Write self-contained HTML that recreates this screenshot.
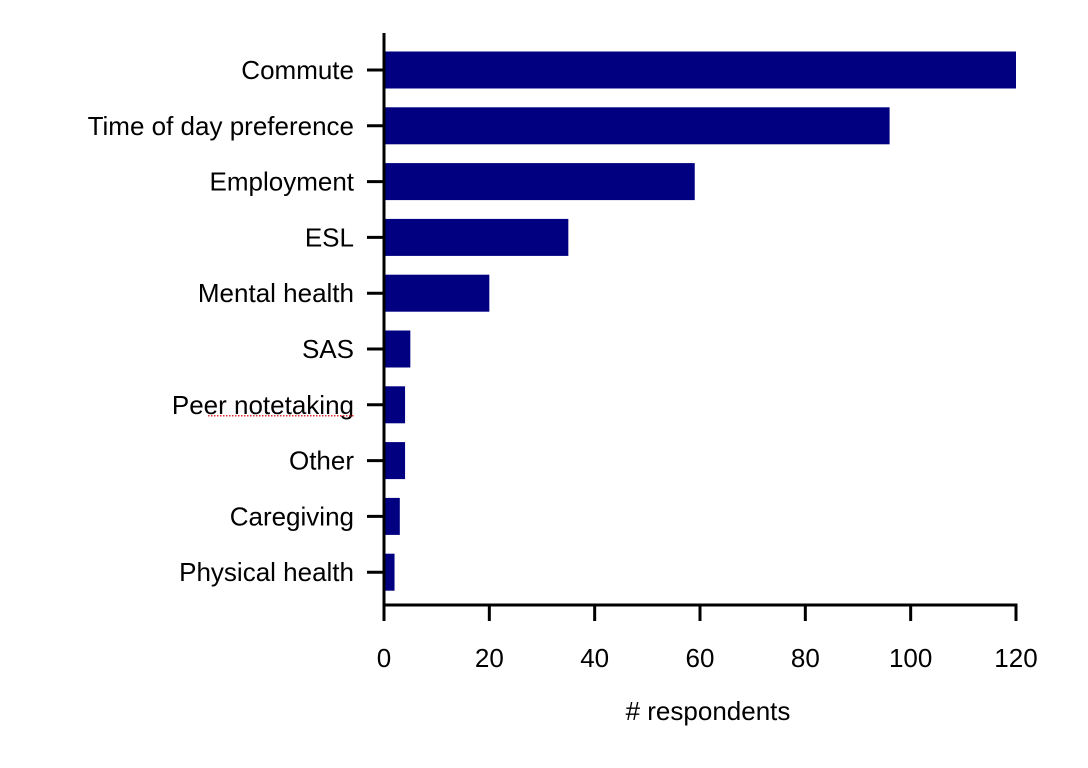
<!DOCTYPE html>
<html><head><meta charset="utf-8"><style>
html,body{margin:0;padding:0;background:#fff;}
svg{display:block;font-family:"Liberation Sans",Arial,sans-serif;}
</style></head><body>
<svg id="chart" width="1088" height="768" viewBox="0 0 1088 768"></svg>
<script>
const categories=["Commute","Time of day preference","Employment","ESL","Mental health","SAS","Peer notetaking","Other","Caregiving","Physical health"];
const values=[120,96,59,35,20,5,4,4,3,2];
const xTicks=[0,20,40,60,80,100,120];
const xLabel="# respondents";

const svg=document.getElementById('chart');
const NS="http://www.w3.org/2000/svg";
const x0=384,x1=1016,yTop=33,yBot=605,xMax=120;
const firstC=70,step=55.8,barH=37;
function xs(v){return x0+(v/xMax)*(x1-x0);}
function yc(i){return firstC+i*step;}
function mk(t,a,p){const e=document.createElementNS(NS,t);for(const k in a)e.setAttribute(k,a[k]);(p||svg).appendChild(e);return e;}

const bars=mk('g',{});


values.forEach((v,i)=>{
  const r=mk('rect',{x:x0,y:yc(i)-barH/2,width:xs(v)-x0,height:barH,fill:'#000080'},bars);
  
  
});
const yax=mk('g',{});


mk('line',{x1:x0,y1:yTop,x2:x0,y2:yBot+1.5,stroke:'#000','stroke-width':3},yax);
categories.forEach((c,i)=>{
  mk('line',{x1:367,y1:yc(i),x2:x0,y2:yc(i),stroke:'#000','stroke-width':3},yax);
  const t=mk('text',{x:354,y:yc(i)+9,'text-anchor':'end','font-size':26,fill:'#000'},yax);
  t.textContent=c;
  
  
  if(c==="Peer notetaking"){
    mk('line',{x1:208,y1:yc(i)+11,x2:354,y2:yc(i)+11,stroke:'#e03030','stroke-width':1.5,'stroke-dasharray':'1.5,1.5'},yax);
  }
});
const xax=mk('g',{});


mk('line',{x1:x0-1.5,y1:yBot,x2:x1+1.5,y2:yBot,stroke:'#000','stroke-width':3},xax);
xTicks.forEach(v=>{
  mk('line',{x1:xs(v),y1:yBot,x2:xs(v),y2:621,stroke:'#000','stroke-width':3},xax);
  const t=mk('text',{x:xs(v),y:667,'text-anchor':'middle','font-size':26,fill:'#000'},xax);
  t.textContent=v;
  
  
});
const tt=mk('text',{x:708,y:720,'text-anchor':'middle','font-size':26,fill:'#000'});
tt.textContent=xLabel;


</script>
</body></html>
